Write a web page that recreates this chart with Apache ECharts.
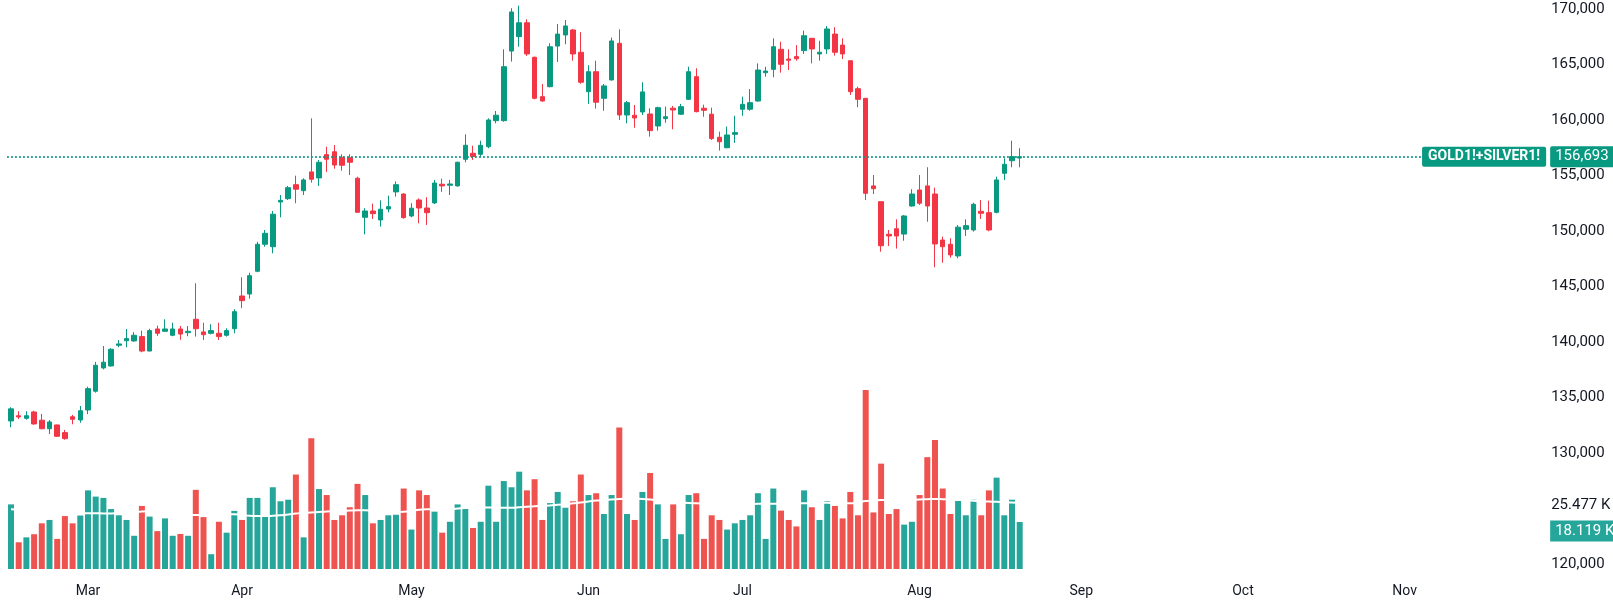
<!DOCTYPE html>
<html>
<head>
<meta charset="utf-8">
<script src="https://cdn.jsdelivr.net/npm/echarts@6/dist/echarts.min.js"></script>
<style>
html,body{margin:0;padding:0;background:#fff}
#main{width:1613px;height:603px}
</style>
</head>
<body>
<div id="main"></div>
<script>
// trading days (2024), one array per month
var febDays = [16,19,20,21,22,23,26,27,28,29];
var marDays = [1,4,5,6,7,8,11,12,13,14,15,18,19,20,21,22,25,26,27,28];
var aprDays = [1,2,3,4,5,8,9,10,11,12,15,16,17,18,19,22,23,24,25,26,29,30];
var mayDays = [1,2,3,6,7,8,9,10,13,14,15,16,17,20,21,22,23,24,27,28,29,30,31];
var junDays = [3,4,5,6,7,10,11,12,13,14,17,18,19,20,21,24,25,26,27,28];
var julDays = [1,2,3,4,5,8,9,10,11,12,15,16,17,18,19,22,23,24,25,26,29,30,31];
var augDays = [1,2,5,6,7,8,9,12,13,14,15,16,19,20];
// empty slots to the right of the last bar
var augFuture = [21,22,23,27,28,29,30];
var sepFuture = [2,3,4,5,6,9,10,11,12,13,16,17,18,19,20,23,24,25,26,27,30];
var octFuture = [1,3,4,7,8,9,10,11,14,15,16,17,18,21,22,23,24,25,28,29,30];
var novFuture = [1,4,5,6,7,8,11,12,13,14,15,18,19,20,21,22,25,26,27];

var opens = [
132880,133350,133120,133690,132950,132180,132520,131830,133260,132970,
133870,135560,137660,137840,139700,140110,140090,140480,139180,141170,
140960,140600,141170,140840,142040,140900,140780,140780,140600,141190,
144140,144320,146370,148800,148580,152610,152910,154170,153630,155320,
154780,156880,157140,156640,156600,154750,151230,151800,150990,151980,
153520,153330,151350,152790,152070,152530,154210,154120,154060,156460,
157000,156910,157590,159940,159940,166210,167510,168760,165650,162100,
163000,166660,167660,168110,166100,162550,164350,161950,163610,166910,
160450,160430,160720,160540,159460,160120,161060,160520,161860,163900,
161060,160520,158440,157500,158710,160970,160970,161710,164260,164560,
166370,165490,165710,166250,167360,165950,166400,167740,166750,165340,
162820,161950,154060,152640,149700,150200,149720,152250,153690,154060,
153330,149180,148800,147750,150150,150090,151770,151650,151680,155200,156330,156570];
var closes = [
133970,133240,133350,132610,132180,132790,131500,131290,133030,133800,
135790,137900,138170,139340,139820,140300,140600,139180,141020,140780,
141170,141170,140710,140960,141190,140650,141020,140480,141020,142730,
143720,145970,148800,149790,151510,152760,153900,153760,154600,154660,
156190,156460,155940,155920,156190,151680,151800,151560,151960,152190,
154170,151200,152050,152070,151650,154320,154060,154230,156190,157720,
156700,157720,160000,160430,164800,169730,168760,165950,161950,161710,
166600,167740,168470,165950,163400,164350,161600,163070,167120,160450,
161560,160180,162530,159040,161110,160290,160900,161200,164350,160750,
160870,158320,158040,158650,158860,161410,161560,164500,164410,166600,
165020,165380,165520,167590,166400,166100,168200,166100,165950,162550,
161860,153390,153810,148670,149550,149550,151350,153330,152500,152250,
148830,148580,147840,150340,150480,152400,151590,150090,154600,156010,156700,156693];
var highs = [
134120,133750,133750,133800,133510,132970,132550,132070,133420,134230,
135970,138200,139630,139430,140170,141170,140880,141020,141190,141470,
142040,141730,141440,141440,145290,141730,141590,141730,141230,142950,
145830,146240,149030,150090,151800,153240,154060,154980,154750,160150,
156400,157590,157740,156910,156910,154890,152050,152460,152760,153180,
154470,153390,152500,152940,153040,154600,154710,154600,156250,158710,
157680,158130,160150,160810,166370,170070,170300,169070,165710,163240,
166910,168650,169010,168200,167910,164930,165340,163240,167420,168170,
161710,161350,163400,161060,161200,161200,161260,161450,164800,164660,
161380,161110,158950,159400,160380,162100,162790,165100,164800,167360,
167050,166370,166750,168050,167360,167140,168470,168360,167360,165340,
163000,161950,155040,152640,150090,151050,151440,153760,155040,155740,
153900,149490,149340,150540,151050,152550,152790,152730,154890,156550,158130,157450];
var lows = [
132320,133060,133000,132550,132130,131700,131440,131190,132580,132720,
133490,135430,137530,137770,139520,139520,140020,139070,139160,140540,
140900,140510,140200,140510,140480,140170,140690,140170,140480,140780,
143040,143900,146280,148580,147990,151230,152790,152500,153240,154350,
154060,155320,155610,155430,155040,151650,149700,151080,150390,151680,
153090,151110,151230,150690,150540,152430,153520,153240,153990,156190,
156400,156700,157450,159700,159840,165260,166600,165770,161860,161650,
162940,165230,166820,165340,163270,161450,161020,160830,163540,160000,
159700,159300,160450,158500,159040,159750,159160,160450,161800,160690,
160290,158190,157240,157450,157930,160380,160830,161650,163900,163850,
164260,164500,165340,165950,165100,165340,165950,165800,165490,162250,
161150,152790,153330,148130,148640,148410,149120,152190,152340,150830,
146730,147140,147590,147540,149550,149940,151080,149970,151590,154600,155740,155740];
// volume, thousands
var volumes = [
24.9,10.3,12.2,13.4,17.6,18.9,11.6,20.4,17.6,20.6,
30.3,27.9,27.4,23.1,20.7,18.9,12.8,24.3,20.2,14.6,
19.5,12.8,13.5,12.8,30.5,20.0,5.7,18.2,14.0,22.4,
18.9,27.4,27.4,20.2,31.5,26.1,26.7,36.4,12.2,50.4,
30.8,28.5,18.9,20.7,23.8,32.8,28.5,17.6,18.9,20.7,
20.9,31.0,15.2,30.3,28.5,22.1,14.0,18.2,24.9,23.6,
15.8,18.2,32.1,18.2,33.9,31.5,37.5,30.3,34.6,18.9,
25.4,29.7,23.6,26.1,36.4,28.5,29.2,21.2,28.5,54.5,
21.2,18.9,29.7,37.0,24.9,11.6,24.9,13.4,28.5,29.2,
11.6,20.7,18.9,15.2,17.6,18.9,20.7,29.2,11.6,31.0,
22.5,18.9,16.4,30.3,23.8,18.9,26.1,24.3,19.5,29.7,
20.7,69.0,21.8,40.6,21.2,23.1,17.1,18.2,28.5,43.1,
49.7,31.0,21.2,26.7,20.7,26.7,20.7,30.3,35.2,20.7,26.7,18.119];
// volume moving average, thousands
var volumeMA = [
23.0,22.8,22.6,22.4,22.2,22.0,21.8,21.7,21.6,21.5,
21.5,21.5,21.4,21.4,21.5,21.6,21.8,22.2,22.3,22.1,
21.8,21.5,21.2,21.0,20.8,20.8,20.8,20.9,21.0,21.1,
20.8,20.5,20.4,20.4,20.5,20.7,21.0,21.4,21.6,21.8,
22.0,22.2,22.3,22.4,22.5,22.6,22.6,22.4,22.2,22.0,
22.0,22.1,22.4,22.8,23.0,23.0,22.9,23.0,23.3,23.5,
23.5,23.6,23.7,23.7,23.6,23.6,23.8,24.0,24.2,24.3,
24.5,24.8,25.0,25.3,25.6,26.0,26.4,26.6,26.8,27.0,
27.2,27.1,27.0,26.8,26.5,26.2,25.9,25.6,25.4,25.3,
25.2,25.1,25.0,25.0,25.0,25.0,25.0,25.1,25.1,25.1,
25.2,25.2,25.3,25.3,25.4,25.5,25.5,25.4,25.3,25.3,
25.6,26.2,26.4,26.6,26.6,26.5,26.5,26.6,26.8,26.9,
27.0,26.9,26.8,26.6,26.5,26.3,26.1,26.0,25.9,25.8,25.6,25.477];
var lastPrice = 156693;
var lastVolume = 18.119;
var lastVolumeMA = 25.477;
var monthNames = ['Jan','Feb','Mar','Apr','May','Jun','Jul','Aug','Sep','Oct','Nov','Dec'];

var UP = '#089981', DOWN = '#F23645';
var VOL_UP = '#26a69a', VOL_DOWN = '#ef5350';
var TEXT = '#131722';
var FONT = 'Roboto, sans-serif';

function pad(n) { return n < 10 ? '0' + n : '' + n; }
var dates = [];
[[2, febDays], [3, marDays], [4, aprDays], [5, mayDays], [6, junDays], [7, julDays], [8, augDays],
 [8, augFuture], [9, sepFuture], [10, octFuture], [11, novFuture]].forEach(function (m) {
    m[1].forEach(function (d) { dates.push('2024-' + pad(m[0]) + '-' + pad(d)); });
});

var candles = opens.map(function (o, i) { return [o, closes[i], lows[i], highs[i]]; });
var volBars = volumes.map(function (v, i) {
    return { value: v, itemStyle: { color: closes[i] >= opens[i] ? VOL_UP : VOL_DOWN } };
});

var gridLeft = 7.15, gridRight = 65.85;

var myChart = echarts.init(document.getElementById('main'));
var option = {
    animation: false,
    backgroundColor: '#ffffff',
    grid: [
        { left: gridLeft, right: gridRight, top: 9, bottom: 39.1 },
        { left: gridLeft, right: gridRight, top: 50, bottom: 34 }
    ],
    xAxis: [
        { type: 'category', gridIndex: 0, data: dates, boundaryGap: true, show: false },
        {
            type: 'category', gridIndex: 1, data: dates, boundaryGap: true,
            axisLine: { show: false }, axisTick: { show: false }, splitLine: { show: false },
            axisLabel: {
                color: TEXT, fontSize: 14, fontFamily: FONT, margin: 15,
                interval: function (idx, val) {
                    return idx > 0 && val.slice(0, 7) !== dates[idx - 1].slice(0, 7);
                },
                formatter: function (val) { return monthNames[+val.slice(5, 7) - 1]; }
            }
        }
    ],
    yAxis: [
        {
            type: 'value', gridIndex: 0, position: 'right', scale: true,
            min: 120000, max: 170000, interval: 5000,
            axisLine: { show: false }, axisTick: { show: false }, splitLine: { show: false },
            axisLabel: {
                color: TEXT, fontSize: 15, fontFamily: FONT, margin: 4,
                formatter: function (v) { return v === 125000 ? '' : v.toLocaleString('en-US'); }
            }
        },
        { type: 'value', gridIndex: 1, min: 0, max: 200, show: false }
    ],
    series: [
        {
            name: 'GOLD1!+SILVER1!',
            type: 'candlestick',
            xAxisIndex: 0, yAxisIndex: 0,
            data: candles,
            barWidth: 5,
            clip: false,
            z: 3,
            itemStyle: {
                color: UP, color0: DOWN, borderColor: UP, borderColor0: DOWN, borderWidth: 1
            },
            markLine: {
                symbol: 'none',
                silent: true,
                z: 10,
                lineStyle: { type: [1.5, 2.5], color: UP, width: 1.5 },
                data: [
                    {
                        yAxis: lastPrice,
                        label: {
                            show: true, position: 'end', distance: 3,
                            formatter: function () { return lastPrice.toLocaleString('en-US'); },
                            color: '#fff', backgroundColor: UP, fontSize: 15, fontFamily: FONT,
                            padding: [3, 6, 3, 5], borderRadius: 2
                        }
                    },
                    {
                        yAxis: lastPrice,
                        label: {
                            show: true, position: 'insideEnd', distance: 1,
                            formatter: 'GOLD1!+SILVER1!',
                            color: '#fff', backgroundColor: UP, fontSize: 14, fontWeight: 'bold',
                            fontFamily: FONT, padding: [3, 6, 3, 6], borderRadius: 2
                        }
                    }
                ]
            }
        },
        {
            name: 'Volume',
            type: 'bar',
            xAxisIndex: 1, yAxisIndex: 1,
            data: volBars,
            barWidth: 6,
            z: 1,
            markLine: {
                symbol: 'none',
                silent: true,
                z: 10,
                lineStyle: { color: 'rgba(0,0,0,0)', width: 0 },
                data: [
                    {
                        yAxis: lastVolumeMA,
                        label: {
                            show: true, position: 'end', distance: 4, offset: [0, 2],
                            formatter: lastVolumeMA.toFixed(3) + ' K',
                            color: TEXT, fontSize: 15, fontFamily: FONT
                        }
                    },
                    {
                        yAxis: lastVolume,
                        label: {
                            show: true, position: 'end', distance: 3, offset: [0, 9],
                            formatter: lastVolume.toFixed(3) + ' K',
                            color: '#fff', backgroundColor: VOL_UP, fontSize: 15, fontFamily: FONT,
                            padding: [3, 6, 3, 5]
                        }
                    }
                ]
            }
        },
        {
            name: 'Volume MA',
            type: 'line',
            xAxisIndex: 1, yAxisIndex: 1,
            data: volumeMA,
            symbol: 'none',
            smooth: true,
            z: 2,
            lineStyle: { color: '#ffffff', width: 2 }
        }
    ]
};
myChart.setOption(option);
</script>
</body>
</html>
